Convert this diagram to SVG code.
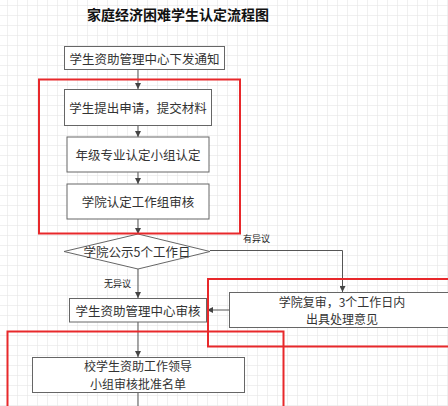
<svg xmlns="http://www.w3.org/2000/svg" width="448" height="406" viewBox="0 0 448 406">
<defs>
<pattern id="grid" x="7" y="5" width="10" height="10" patternUnits="userSpaceOnUse">
<path d="M0 0H10M0 0V10" fill="none" stroke="#e2e2e2" stroke-width="1"/>
</pattern>
<marker id="ah" viewBox="0 0 8 8" refX="8" refY="4" markerWidth="6" markerHeight="6" orient="auto" markerUnits="userSpaceOnUse">
<path d="M0 0L8 4L0 8Z" fill="#444"/>
</marker>
<style>
.box{fill:#fff;stroke:#666;stroke-width:1}
.red{fill:none;stroke:#e8282b;stroke-width:2}
.t{font-family:"Noto Sans CJK SC","Noto Sans",sans-serif;font-size:12.5px;fill:#333;text-anchor:middle;dominant-baseline:central}
.t2{font-size:12px}
.s{font-family:"Noto Sans CJK SC","Noto Sans",sans-serif;font-size:9px;fill:#222;dominant-baseline:central}
.c{fill:none;stroke:#555;stroke-width:1;marker-end:url(#ah)}
</style>
</defs>
<rect width="448" height="406" fill="#fff"/>
<rect width="448" height="406" fill="url(#grid)"/>
<text x="178" y="14" font-family="'Noto Sans CJK SC','Noto Sans',sans-serif" font-size="14" font-weight="bold" fill="#111" text-anchor="middle" dominant-baseline="central">家庭经济困难学生认定流程图</text>

<g id="connectors">
<path class="c" d="M138 69V89"/>
<path class="c" d="M138 126V137"/>
<path class="c" d="M138 172V184"/>
<path class="c" d="M138 219V234"/>
<path class="c" d="M138 269V298"/>
<path class="c" d="M210 250.5H342.5V292"/>
<path class="c" d="M229 310H207"/>
<path class="c" d="M138 322V357"/>
<path fill="none" stroke="#555" d="M138 392V406"/>
<text class="s" x="243" y="238">有异议</text>
<text class="s" x="104" y="283">无异议</text>
</g>

<g id="n1"><rect class="box" x="64.5" y="46.5" width="160" height="23"/><text class="t" x="144.5" y="58">学生资助管理中心下发通知</text></g>
<g id="n2"><rect class="box" x="64.5" y="89.5" width="147" height="36"/><text class="t" x="138" y="107.5">学生提出申请，提交材料</text></g>
<g id="n3"><rect class="box" x="67" y="137" width="142" height="35"/><text class="t" x="138" y="154.5">年级专业认定小组认定</text></g>
<g id="n4"><rect class="box" x="67" y="184" width="142" height="35"/><text class="t" x="138" y="201.5">学院认定工作组审核</text></g>
<g id="n5"><path class="box" d="M64 251.5L138 234L210 251.5L138 269Z"/><text class="t" x="137" y="251">学院公示5个工作日</text></g>
<g id="n6"><rect class="box" x="69.5" y="298.5" width="137" height="23.5"/><text class="t" x="138" y="310">学生资助管理中心审核</text></g>
<g id="n7"><rect class="box" x="229.5" y="292.5" width="226" height="35"/><text class="t t2" x="342" y="301">学院复审，3个工作日内</text><text class="t t2" x="342" y="318.5">出具处理意见</text></g>
<g id="n8"><rect class="box" x="32.5" y="357.5" width="212" height="35"/><text class="t t2" x="138" y="365.5">校学生资助工作领导</text><text class="t t2" x="138" y="383">小组审核批准名单</text></g>

<g id="highlights">
<rect class="red" x="39" y="79.5" width="201" height="154"/>
<rect class="red" x="208" y="279" width="250" height="67.5"/>
<rect class="red" x="7.5" y="331.5" width="276" height="90"/>
</g>
</svg>
